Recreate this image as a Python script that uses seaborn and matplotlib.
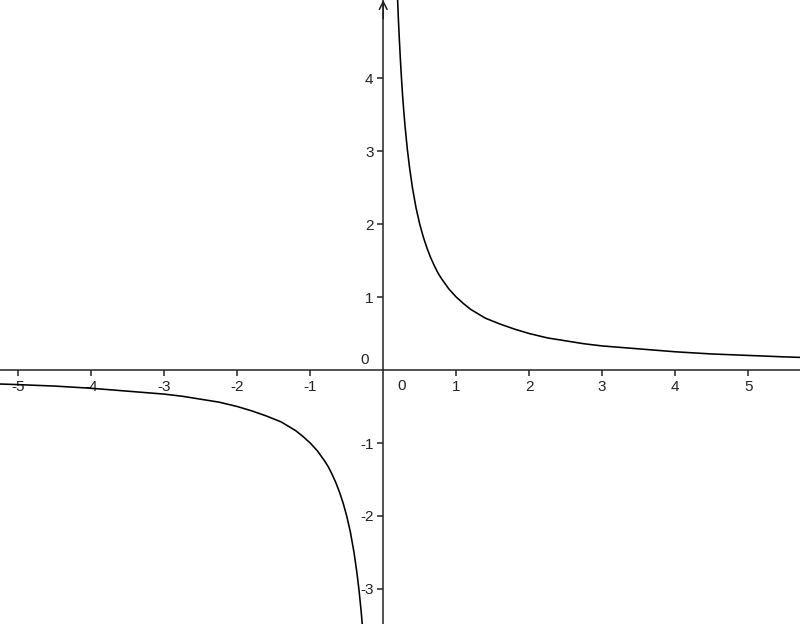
import matplotlib
matplotlib.use("Agg")
import matplotlib.pyplot as plt
import seaborn as sns
import pandas as pd

# points, right branch (x > 0)
pos_x = [0.19, 0.2, 0.21, 0.22, 0.235, 0.25, 0.265, 0.28, 0.3, 0.33, 0.36, 0.4, 0.45, 0.5,
         0.55, 0.6, 0.65, 0.7, 0.75, 0.8, 0.9, 1.0, 1.1, 1.2, 1.3, 1.4, 1.5, 1.6, 1.8, 2.0,
         2.25, 2.5, 2.75, 3.0, 3.5, 4.0, 4.5, 5.0, 5.5, 5.8]
pos_y = [5.26, 5.0, 4.76, 4.55, 4.26, 4.0, 3.77, 3.57, 3.33, 3.03, 2.78, 2.5, 2.22, 2.0,
         1.82, 1.67, 1.54, 1.43, 1.33, 1.25, 1.11, 1.0, 0.91, 0.83, 0.77, 0.71, 0.67, 0.63,
         0.56, 0.5, 0.44, 0.4, 0.36, 0.33, 0.29, 0.25, 0.22, 0.2, 0.18, 0.17]

# left branch (x < 0)
neg_x = [-5.3, -5.0, -4.5, -4.0, -3.5, -3.0, -2.75, -2.5, -2.25, -2.0, -1.8, -1.6, -1.5,
         -1.4, -1.3, -1.2, -1.1, -1.0, -0.9, -0.8, -0.75, -0.7, -0.65, -0.6, -0.55, -0.5,
         -0.45, -0.4, -0.36, -0.33, -0.3, -0.28]
neg_y = [-0.19, -0.2, -0.22, -0.25, -0.29, -0.33, -0.36, -0.4, -0.44, -0.5, -0.56, -0.63,
         -0.67, -0.71, -0.77, -0.83, -0.91, -1.0, -1.11, -1.25, -1.33, -1.43, -1.54, -1.67,
         -1.82, -2.0, -2.22, -2.5, -2.78, -3.03, -3.33, -3.57]

x_ticks = [-5, -4, -3, -2, -1, 1, 2, 3, 4, 5]
y_ticks = [-3, -2, -1, 1, 2, 3, 4]

sns.set_style("white")
plt.rcParams["font.family"] = ["Liberation Sans", "DejaVu Sans"]

fig = plt.figure(figsize=(8, 6.24), dpi=100)
ax = fig.add_axes([0, 0, 1, 1])

right = pd.DataFrame({"x": pos_x, "y": pos_y})
left = pd.DataFrame({"x": neg_x, "y": neg_y})
sns.lineplot(data=right, x="x", y="y", sort=False, color="black", linewidth=1.15, ax=ax)
sns.lineplot(data=left, x="x", y="y", sort=False, color="black", linewidth=1.15, ax=ax)

ax.set_xlim(-5.25, 5.71)
ax.set_ylim(-3.48, 5.07)

# axes through origin
ax.spines["left"].set_position(("data", 0))
ax.spines["bottom"].set_position(("data", 0))
ax.spines["top"].set_visible(False)
ax.spines["right"].set_visible(False)
for s in ("left", "bottom"):
    ax.spines[s].set_linewidth(1.1)
    ax.spines[s].set_color("#222222")

ax.set_xticks(x_ticks)
ax.set_xticklabels([str(t) for t in x_ticks])
ax.set_yticks(y_ticks)
ax.set_yticklabels([str(t) for t in y_ticks])
ax.tick_params(axis="both", direction="out", length=4, width=1.1, labelsize=11,
               colors="#222222", bottom=True, left=True)
ax.tick_params(axis="x", pad=3)
ax.tick_params(axis="y", pad=3)
ax.set_xlabel("")
ax.set_ylabel("")

# zero labels
ax.annotate("0", xy=(0, 0), xytext=(10, -6.5), textcoords="offset points",
            ha="left", va="top", fontsize=11, color="#222222")
ax.annotate("0", xy=(0, 0), xytext=(-10, 2), textcoords="offset points",
            ha="right", va="bottom", fontsize=11, color="#222222")

# arrow head on y axis
ax.annotate("", xy=(0, 1.0), xycoords=("data", "axes fraction"),
            xytext=(0, 0.97), textcoords=("data", "axes fraction"),
            arrowprops=dict(arrowstyle="->", color="#222222", lw=1.1,
                            mutation_scale=14, shrinkA=0, shrinkB=0))

fig.savefig("out.png", dpi=100)
